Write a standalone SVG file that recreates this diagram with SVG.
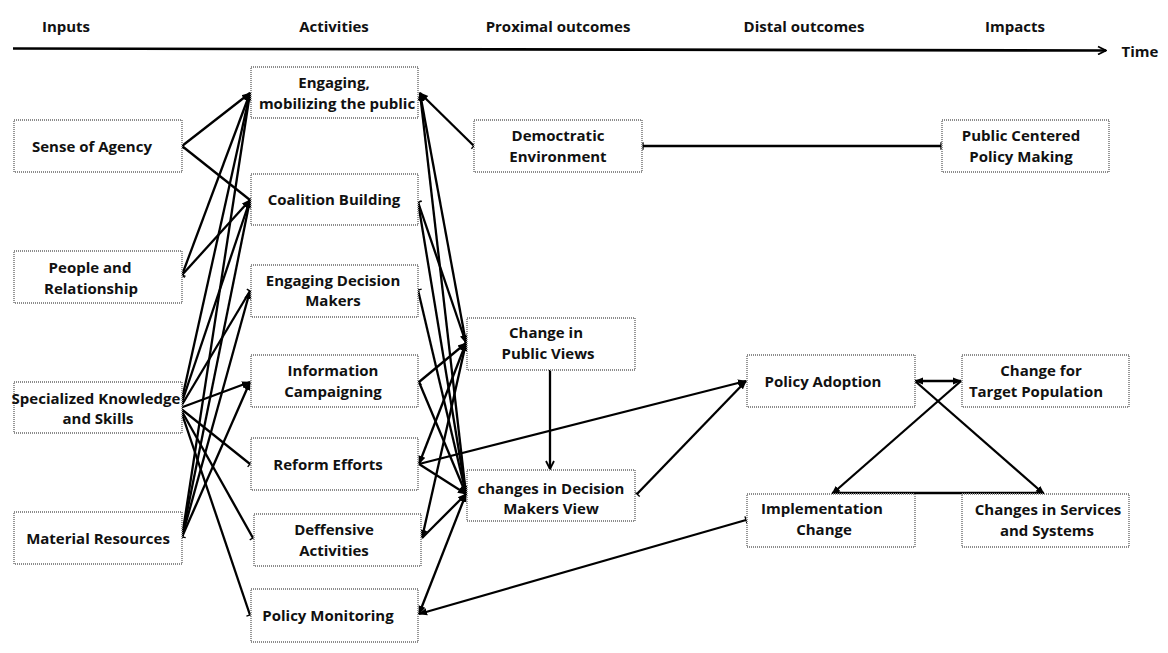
<svg xmlns="http://www.w3.org/2000/svg" width="1168" height="653" viewBox="0 0 1168 653">
<style>
text{font-family:"Open Sans","Liberation Sans",sans-serif;font-weight:700;font-size:15px;fill:#111;text-anchor:middle}
.box{fill:#fff;stroke:#8c8c8c;stroke-width:1.8;stroke-dasharray:1 1}
.c line,.c path{stroke:#000;stroke-width:2.3;fill:none}
</style>
<defs>
<marker id="a" viewBox="0 0 10 10" refX="9" refY="5" markerWidth="9" markerHeight="9" markerUnits="userSpaceOnUse" orient="auto-start-reverse"><path d="M0,1 L10,5 L0,9 z" fill="#000"/></marker>
<marker id="b" viewBox="0 0 4 10" refX="2" refY="5" markerWidth="3" markerHeight="9" markerUnits="userSpaceOnUse" orient="auto"><path d="M2,0 V10" stroke="#000" stroke-width="1.8"/></marker>
<marker id="o" viewBox="0 0 10 10" refX="9" refY="5" markerWidth="10" markerHeight="10" markerUnits="userSpaceOnUse" orient="auto"><path d="M1,1 L9,5 L1,9" fill="none" stroke="#000" stroke-width="1.8"/></marker>
</defs>
<rect width="1168" height="653" fill="#fff"/>
<g id="headers">
<text x="66" y="32">Inputs</text>
<text x="334" y="32">Activities</text>
<text x="558" y="32">Proximal outcomes</text>
<text x="804" y="32">Distal outcomes</text>
<text x="1015" y="32">Impacts</text>
<text x="1140" y="57">Time</text>
</g>
<g id="time-axis" class="c">
<line x1="13" y1="48.5" x2="1106" y2="50.5" style="stroke-width:2.6" marker-end="url(#o)"/>
</g>
<g id="connectors" class="c">
<line x1="182" y1="146" x2="250" y2="93" marker-start="url(#b)" marker-end="url(#a)"/>
<line x1="182" y1="146" x2="250" y2="200" marker-end="url(#b)"/>
<line x1="182" y1="275" x2="250" y2="93" marker-start="url(#b)" marker-end="url(#a)"/>
<line x1="182" y1="275" x2="250" y2="200" marker-start="url(#b)" marker-end="url(#a)"/>
<line x1="180" y1="408" x2="250" y2="93" marker-end="url(#a)"/>
<line x1="180" y1="408" x2="250" y2="200" marker-end="url(#a)"/>
<line x1="180" y1="408" x2="250" y2="291" marker-end="url(#b)"/>
<line x1="180" y1="408" x2="250" y2="382" marker-start="url(#b)" marker-end="url(#a)"/>
<line x1="180" y1="408" x2="250" y2="464" marker-end="url(#b)"/>
<line x1="180" y1="408" x2="253" y2="538" marker-end="url(#b)"/>
<line x1="180" y1="408" x2="250" y2="615" marker-end="url(#b)"/>
<line x1="182" y1="537" x2="250" y2="93" marker-start="url(#b)" marker-end="url(#a)"/>
<line x1="182" y1="537" x2="250" y2="200" marker-end="url(#a)"/>
<line x1="182" y1="537" x2="250" y2="291" marker-end="url(#a)"/>
<line x1="182" y1="537" x2="250" y2="382" marker-end="url(#a)"/>
<line x1="420" y1="93" x2="474" y2="146" marker-start="url(#a)" marker-end="url(#b)"/>
<line x1="420" y1="93" x2="466" y2="343" marker-start="url(#a)" marker-end="url(#a)"/>
<line x1="420" y1="93" x2="466" y2="494" marker-start="url(#a)" marker-end="url(#a)"/>
<line x1="418" y1="202" x2="466" y2="343" marker-start="url(#b)" marker-end="url(#a)"/>
<line x1="418" y1="202" x2="466" y2="494" marker-start="url(#b)" marker-end="url(#a)"/>
<line x1="418" y1="290" x2="466" y2="494" marker-start="url(#b)" marker-end="url(#a)"/>
<line x1="419" y1="382" x2="466" y2="343" marker-start="url(#b)" marker-end="url(#a)"/>
<line x1="419" y1="382" x2="466" y2="494" marker-end="url(#a)"/>
<line x1="419" y1="464" x2="466" y2="343" marker-start="url(#a)" marker-end="url(#a)"/>
<line x1="419" y1="464" x2="466" y2="494" marker-end="url(#a)"/>
<line x1="419" y1="464" x2="746" y2="381" marker-end="url(#a)"/>
<line x1="422" y1="538" x2="466" y2="343" marker-start="url(#a)" marker-end="url(#a)"/>
<line x1="422" y1="538" x2="466" y2="494" marker-end="url(#a)"/>
<line x1="419" y1="614" x2="466" y2="494" marker-start="url(#a)" marker-end="url(#a)"/>
<line x1="419" y1="614" x2="746" y2="520" marker-start="url(#a)" marker-end="url(#b)"/>
<line x1="643" y1="146" x2="941" y2="146" marker-start="url(#b)" marker-end="url(#b)"/>
<line x1="550" y1="370" x2="550" y2="469" marker-end="url(#o)"/>
<line x1="637" y1="494" x2="746" y2="381" marker-start="url(#b)" marker-end="url(#a)"/>
<line x1="915" y1="381" x2="961" y2="381" marker-start="url(#a)" marker-end="url(#a)"/>
<line x1="961" y1="381" x2="832" y2="494" marker-end="url(#a)"/>
<line x1="915" y1="381" x2="1044" y2="494" marker-end="url(#a)"/>
<line x1="832" y1="493" x2="1044" y2="493"/>
</g>
<g id="sense-of-agency"><rect class="box" x="14" y="120" width="168" height="52"/><text x="92" y="152">Sense of Agency</text></g>
<g id="people-and-relationship"><rect class="box" x="14" y="251" width="168" height="52"/><text x="90" y="273">People and</text><text x="91" y="294">Relationship</text></g>
<g id="specialized-knowledge"><rect class="box" x="14" y="382" width="168" height="51"/><text x="96" y="404">Specialized Knowledge</text><text x="98" y="424">and Skills</text></g>
<g id="material-resources"><rect class="box" x="14" y="512" width="168" height="52"/><text x="98" y="544">Material Resources</text></g>
<g id="engaging-public"><rect class="box" x="251" y="67" width="167" height="51"/><text x="334" y="88">Engaging,</text><text x="337" y="109">mobilizing the public</text></g>
<g id="coalition-building"><rect class="box" x="251" y="174" width="167" height="51"/><text x="334" y="205">Coalition Building</text></g>
<g id="engaging-decision-makers"><rect class="box" x="251" y="265" width="167" height="52"/><text x="333" y="286">Engaging Decision</text><text x="333" y="306">Makers</text></g>
<g id="information-campaigning"><rect class="box" x="251" y="355" width="167" height="52"/><text x="333" y="376">Information</text><text x="333" y="397">Campaigning</text></g>
<g id="reform-efforts"><rect class="box" x="251" y="438" width="167" height="52"/><text x="328" y="470">Reform Efforts</text></g>
<g id="deffensive-activities"><rect class="box" x="254" y="514" width="167" height="52"/><text x="334" y="535">Deffensive</text><text x="334" y="556">Activities</text></g>
<g id="policy-monitoring"><rect class="box" x="251" y="589" width="167" height="53"/><text x="328" y="621">Policy Monitoring</text></g>
<g id="democratic-environment"><rect class="box" x="474" y="120" width="168" height="52"/><text x="558" y="141">Democtratic</text><text x="558" y="162">Environment</text></g>
<g id="change-public-views"><rect class="box" x="467" y="318" width="168" height="52"/><text x="546" y="338">Change in</text><text x="548" y="359">Public Views</text></g>
<g id="changes-decision-makers"><rect class="box" x="467" y="470" width="168" height="51"/><text x="551" y="494">changes in Decision</text><text x="551" y="514">Makers View</text></g>
<g id="policy-adoption"><rect class="box" x="747" y="355" width="168" height="52"/><text x="823" y="387">Policy Adoption</text></g>
<g id="implementation-change"><rect class="box" x="747" y="494" width="168" height="53"/><text x="822" y="514">Implementation</text><text x="824" y="535">Change</text></g>
<g id="public-centered-policy"><rect class="box" x="942" y="120" width="167" height="52"/><text x="1021" y="141">Public Centered</text><text x="1021" y="162">Policy Making</text></g>
<g id="change-target-population"><rect class="box" x="962" y="355" width="167" height="52"/><text x="1041" y="376">Change for</text><text x="1036" y="397">Target Population</text></g>
<g id="changes-services-systems"><rect class="box" x="962" y="494" width="167" height="53"/><text x="1048" y="515">Changes in Services</text><text x="1047" y="536">and Systems</text></g>
</svg>
